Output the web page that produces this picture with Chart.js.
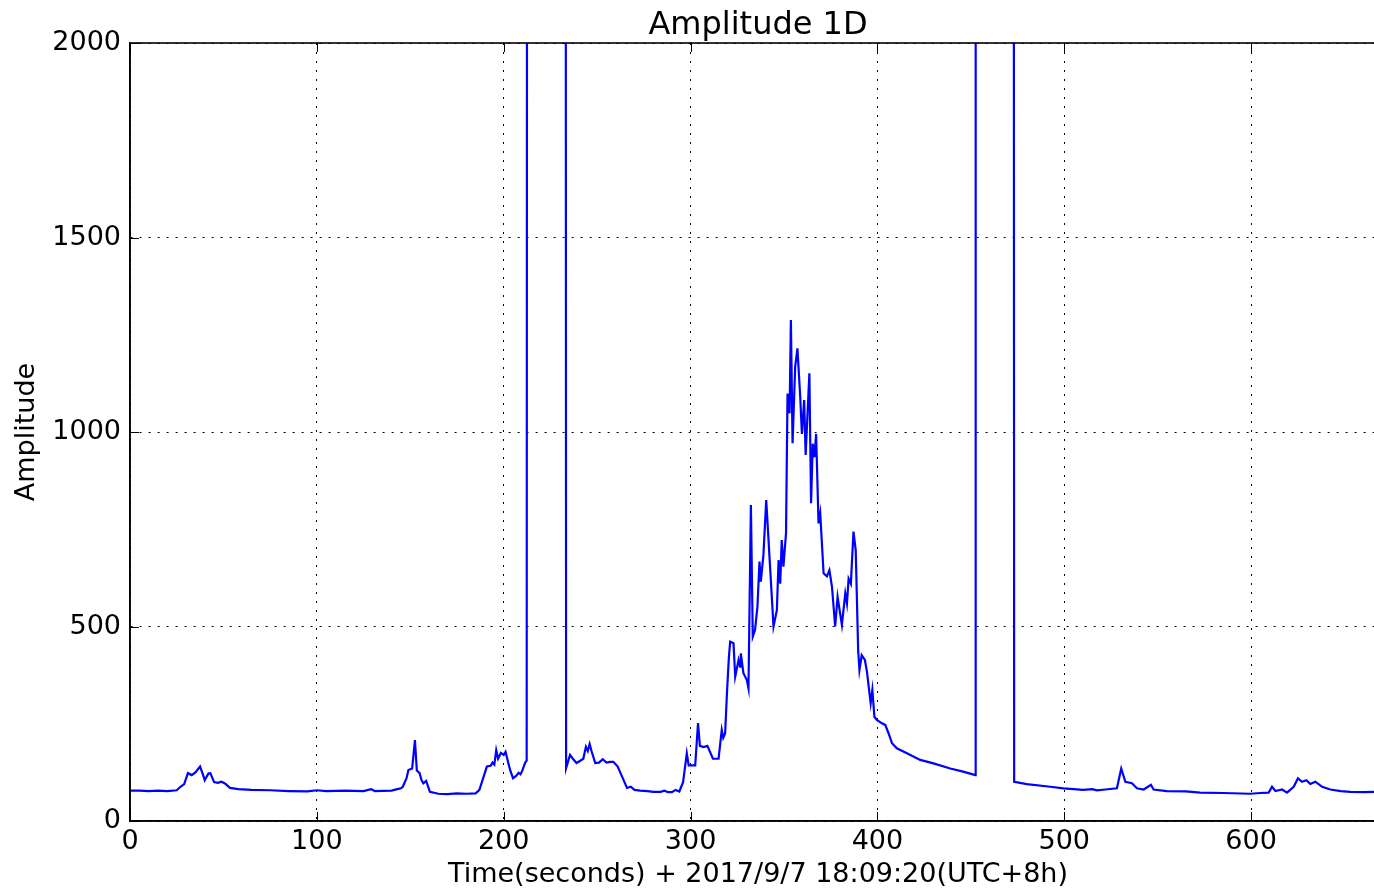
<!DOCTYPE html>
<html>
<head>
<meta charset="utf-8">
<script src="https://cdn.jsdelivr.net/npm/chart.js@4"></script>
<style>
  html, body { margin: 0; padding: 0; background: #fff; overflow: hidden; }
  #wrap { width: 1374px; height: 891px; overflow: hidden; }
</style>
</head>
<body>
<div id="wrap"><canvas id="c" width="1390" height="891"></canvas></div>
<script>
const titleText = "Amplitude 1D";
const xAxisTitle = "Time(seconds) + 2017/9/7 18:09:20(UTC+8h)";
const yAxisTitle = "Amplitude";
const xTicks = [0, 100, 200, 300, 400, 500, 600];
const yTicks = [0, 500, 1000, 1500, 2000];

const times = [
  0, 5, 10, 15, 20, 25, 27, 29, 31, 33, 35, 37.5, 39, 40, 42, 43, 45, 47, 49, 51, 53.5,
  58, 65, 75, 85, 95, 100, 105, 115, 125, 129, 131, 140, 143, 145, 146, 148, 149, 151,
  152.5, 153.5, 155, 156, 157, 158.5, 160.5, 165, 170, 175, 180, 185, 187, 189, 191, 193,
  194, 195, 196, 197, 198.5, 200, 201, 202, 203.5, 205, 206.5, 208, 209, 210, 211.5, 212.3,
  212.5, 233.2, 233.4, 235.5, 237, 239, 241, 242.6, 244, 245, 246, 247, 249, 251, 253, 255,
  257, 258.7, 261, 263, 266, 268, 270, 273, 277, 280, 284, 286, 288, 290, 292, 294, 296,
  298, 299, 302.5, 304, 305, 307, 309, 312, 315, 316.7, 317.5, 318.5, 319.5, 320.5, 321.2,
  323, 323.9, 325.7, 326.5, 326.9, 328.3, 330.1, 331, 332.3, 333.3, 334.5, 335.8, 336.9,
  337.6, 339, 340.5, 342.6, 344.4, 346.2, 347.1, 348, 348.8, 349.7, 351.1, 351.9, 353,
  353.7, 354.6, 356, 357.2, 358.7, 359.6, 360.8, 361.6, 363.6, 364.5, 365.4, 366.3, 367.2,
  368.5, 369.4, 371.2, 373, 374.3, 375.7, 377.4, 378.7, 381, 382.8, 383.7, 384.6, 385.8,
  387.2, 388.4, 389.7, 390.4, 391.6, 393.3, 394.4, 396.4, 397.3, 398.4, 399.7, 402.4,
  404.2, 406, 407.8, 410.4, 415.8, 422.9, 430, 439, 445.9, 452.4, 452.6, 473.0, 473.2,
  480, 492.5, 499.6, 505, 510, 515, 517.5, 522, 528.2, 530.5, 532.7, 536.2, 538.9, 542.5,
  546.4, 547.8, 554.9, 565, 572.8, 585, 599.6, 605, 609.4, 611.2, 613, 616.6, 619.2, 622.8,
  625.1, 627.2, 629.6, 631.7, 634.4, 638, 642.4, 648, 653.1, 660, 666, 672
];
const amps = [
  78, 78, 77, 78, 77, 79, 88, 95, 123, 118, 125, 140, 120, 105, 122, 123, 100, 98, 101, 96, 85,
  82, 80, 79, 77, 76, 79, 77, 78, 77, 82, 77, 78, 82, 84, 88, 110, 131, 135,
  208, 130, 123, 105, 97, 103, 75, 70, 69, 71, 70, 71, 80, 110, 140, 142,
  150, 145, 182, 160, 175, 170, 178, 158, 130, 110, 115, 124, 120, 130, 150, 155,
  2600, 2600, 136, 170, 160, 149, 155, 160, 191, 180, 198, 180, 149, 150, 159, 150,
  152, 152, 140, 118, 85, 88, 80, 78, 77, 75, 75, 78, 74, 74, 80, 76, 100,
  174, 143, 143, 252, 193, 190, 193, 160, 160, 234, 214, 225, 330, 420, 461,
  457, 371, 414, 397, 431, 380, 363, 341, 812, 474, 491, 551, 667,
  615, 684, 825, 650, 500, 542, 671, 610, 722, 654, 740, 1099, 1048,
  1288, 971, 1168, 1215, 1090, 995, 1082, 941, 1151, 817, 970, 935, 995,
  765, 791, 637, 629, 645, 602, 500, 576, 504, 585, 559, 623, 610,
  744, 696, 440, 388, 426, 414, 384, 303, 337, 268, 260, 251,
  247, 225, 200, 187, 174, 157, 148, 135, 127, 118, 2600, 2600, 101,
  95, 88, 84, 82, 80, 82, 79, 81, 84, 135, 101, 97, 84, 81,
  93, 81, 77, 76, 73, 72, 70, 72, 73, 88, 77, 81, 73, 88,
  110, 101, 105, 95, 101, 88, 81, 77, 75, 74, 75, 75
];

const FONT = "'DejaVu Sans', sans-serif";

const framePlugin = {
  id: 'frame',
  afterDatasetsDraw(chart) {
    const {ctx, chartArea: a, scales} = chart;
    ctx.save();
    ctx.strokeStyle = '#000';
    ctx.lineWidth = 1;
    const tl = 9;
    ctx.beginPath();
    xTicks.forEach(v => {
      const px = Math.round(scales.x.getPixelForValue(v)) + 0.5;
      ctx.moveTo(px, a.bottom); ctx.lineTo(px, a.bottom - tl);
      ctx.moveTo(px, a.top); ctx.lineTo(px, a.top + tl);
    });
    yTicks.forEach(v => {
      const py = Math.round(scales.y.getPixelForValue(v)) + 0.5;
      ctx.moveTo(a.left, py); ctx.lineTo(a.left + tl, py);
      ctx.moveTo(a.right, py); ctx.lineTo(a.right - tl, py);
    });
    ctx.stroke();
    ctx.lineWidth = 1.6;
    ctx.strokeRect(a.left, a.top, a.right - a.left, a.bottom - a.top);
    // title, centred over the axes
    ctx.fillStyle = '#000';
    ctx.font = "32px " + FONT;
    ctx.textAlign = 'center';
    ctx.textBaseline = 'alphabetic';
    ctx.fillText(titleText, (a.left + a.right) / 2, 34);
    ctx.restore();
  }
};

new Chart(document.getElementById('c'), {
  type: 'line',
  data: {
    datasets: [{
      data: times.map((t, i) => ({x: t, y: amps[i]})),
      borderColor: '#0000ff',
      borderWidth: 2.2,
      pointRadius: 0,
      tension: 0,
      fill: false
    }]
  },
  options: {
    responsive: false,
    animation: false,
    layout: { padding: { left: 0, right: 4, top: 43, bottom: 0 } },
    plugins: {
      legend: { display: false },
      tooltip: { enabled: false },
      title: { display: false }
    },
    scales: {
      x: {
        type: 'linear',
        min: 0, max: 672.2,
        afterFit(s) { s.height = 70; },
        afterBuildTicks(s) { s.ticks = xTicks.map(v => ({value: v})); },
        ticks: { color: '#000', font: { family: FONT, size: 27 }, padding: 5, maxRotation: 0, autoSkip: false,
                 callback: v => String(v) },
        grid: { color: '#000', lineWidth: 1, drawTicks: false },
        border: { display: true, color: '#000', width: 1.6, dash: [2, 7] },
        title: { display: true, text: xAxisTitle, color: '#000', font: { family: FONT, size: 27, lineHeight: 1.2 }, padding: { top: 0, bottom: 0 } }
      },
      y: {
        type: 'linear',
        min: 0, max: 2000,
        afterFit(s) { s.width = 130; },
        afterBuildTicks(s) { s.ticks = yTicks.map(v => ({value: v})); },
        ticks: { color: '#000', font: { family: FONT, size: 27 }, padding: 9, callback: v => String(v) },
        grid: { color: '#000', lineWidth: 1, drawTicks: false },
        border: { display: true, color: '#000', width: 1.6, dash: [2, 7] },
        title: { display: true, text: yAxisTitle, color: '#000', font: { family: FONT, size: 27, lineHeight: 1.2 }, padding: { top: 11, bottom: 0 } }
      }
    }
  },
  plugins: [framePlugin]
});
</script>
</body>
</html>
